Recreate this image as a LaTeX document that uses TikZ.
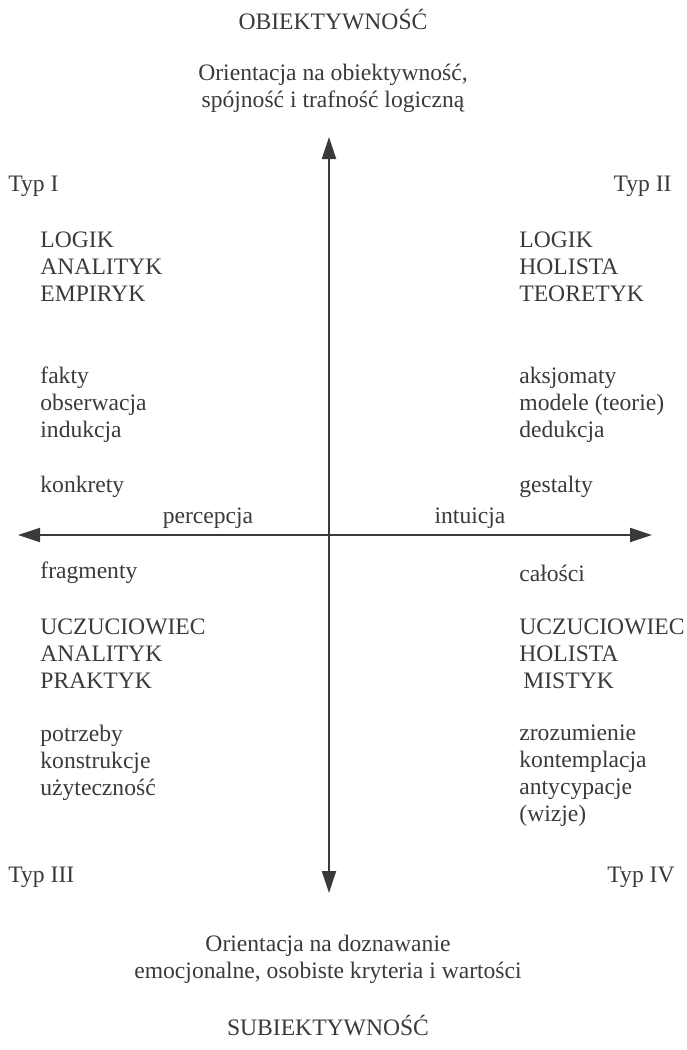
\documentclass[tikz,border=0pt]{standalone}
\usepackage{fontspec}
\setmainfont{Liberation Serif}
\usetikzlibrary{arrows.meta,positioning}
\definecolor{ink}{HTML}{3A3A3A}
\tikzset{
  txt/.style={inner sep=0pt, text=ink, align=left, font=\fontsize{11.8}{13.5}\selectfont},
  ctxt/.style={txt, align=center},
  west/.style={txt, anchor=west},
  east/.style={txt, anchor=east},
  axis/.style={{Triangle[length=11pt,width=7pt]}-{Triangle[length=11pt,width=7pt]}, line width=1pt, draw=ink}
}
\begin{document}
\begin{tikzpicture}[x=0.5pt, y=-0.5pt]
  \useasboundingbox (0,0) rectangle (686,1050);

  \node[ctxt] (obj) at (333,20) {OBIEKTYWNOŚĆ};
  \node[ctxt] (objor) at (333,88) {Orientacja na obiektywność,\\spójność i trafność logiczną};
  \node[ctxt] (subor) at (328,959) {Orientacja na doznawanie\\emocjonalne, osobiste kryteria i wartości};
  \node[ctxt] (sub) at (328,1026) {SUBIEKTYWNOŚĆ};

  \coordinate (top) at (329,137);
  \coordinate (bot) at (329,893);
  \coordinate (lft) at (18,535);
  \coordinate (rgt) at (652,535);
  \draw[axis] (bot) -- (top);
  \draw[axis] (lft) -- (rgt);
  \node[ctxt] (perc) at (208,518) {percepcja};
  \node[ctxt] (intu) at (470,518) {intuicja};

  \node[west] (typI) at (8,186) {Typ I};
  \node[west] (logikL) at (40,267) {LOGIK\\ANALITYK\\EMPIRYK};
  \node[west] (fakty) at (40,405) {fakty\\obserwacja\\indukcja};
  \node[west] (konk) at (40,487) {konkrety};
  \node[west] (frag) at (40,573) {fragmenty};
  \node[west] (uczL) at (40,654) {UCZUCIOWIEC\\ANALITYK\\PRAKTYK};
  \node[west] (potrz) at (40,763) {potrzeby\\konstrukcje\\użyteczność};
  \node[west] (typIII) at (8,877) {Typ III};

  \node[east] (typII) at (672,186) {Typ II};
  \node[west] (logikR) at (519,267) {LOGIK\\HOLISTA\\TEORETYK};
  \node[west] (aksj) at (519,405) {aksjomaty\\modele (teorie)\\dedukcja};
  \node[west] (gest) at (519,487) {gestalty};
  \node[west] (calo) at (519,573) {całości};
  \node[west] (uczR) at (519,654) {UCZUCIOWIEC\\HOLISTA\\\hspace{2pt}MISTYK};
  \node[west] (zroz) at (519,776) {zrozumienie\\kontemplacja\\antycypacje\\(wizje)};
  \node[east] (typIV) at (675,877) {Typ IV};
\end{tikzpicture}
\end{document}
